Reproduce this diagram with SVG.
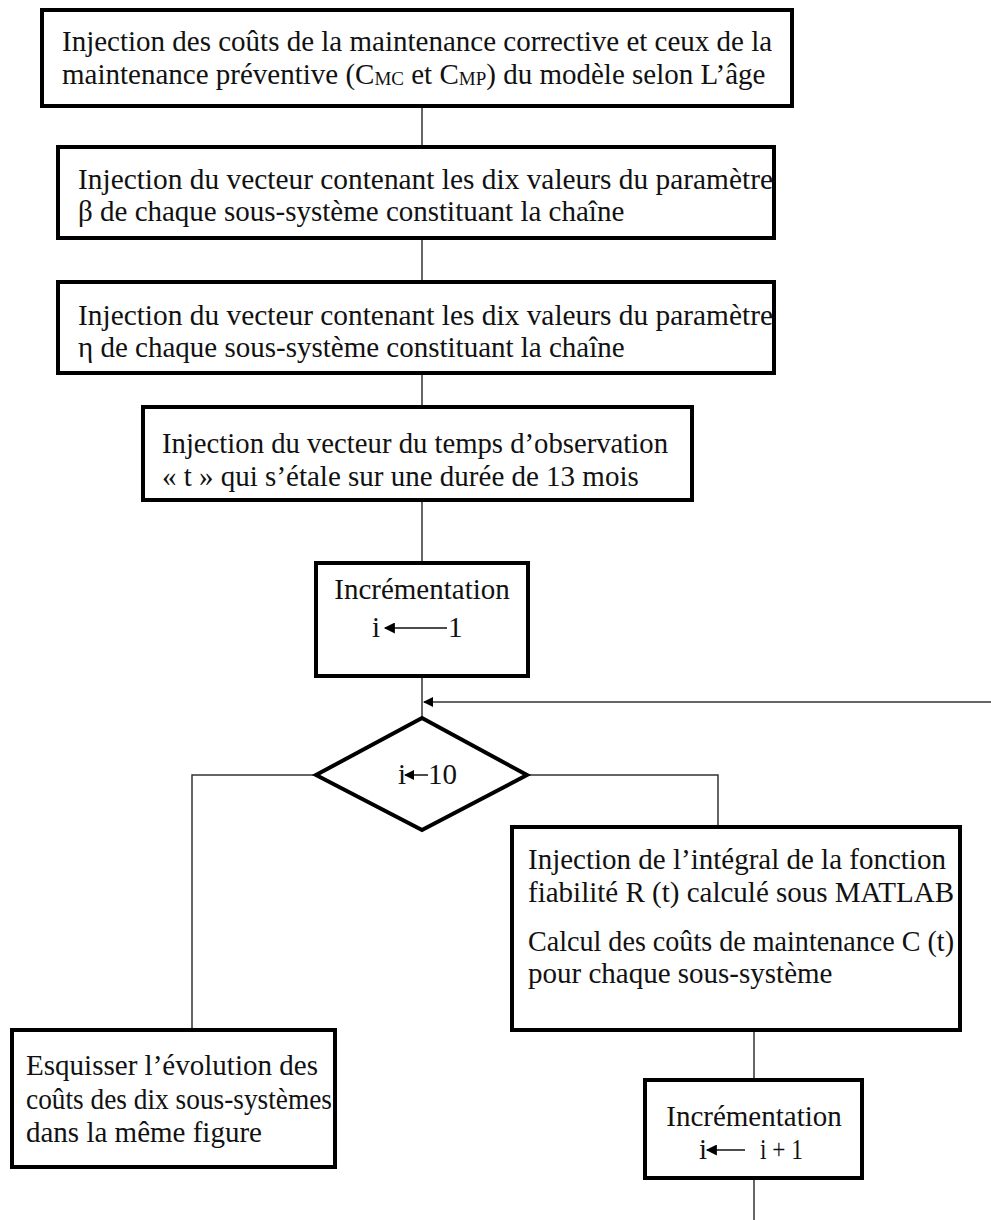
<svg xmlns="http://www.w3.org/2000/svg" width="991" height="1220" viewBox="0 0 991 1220">
<defs>
<style>
.box{fill:#fff;stroke:#000;stroke-width:4}
.con{fill:none;stroke:#333;stroke-width:1.5}
.t{font-family:'Liberation Serif','DejaVu Serif',serif;font-size:29px;fill:#111}
.c{text-anchor:middle}
.sub{font-size:19px}
.ar{fill:none;stroke:#111;stroke-width:1.5}
</style>
<marker id="ah" viewBox="0 0 10 10" refX="9" refY="5" markerWidth="10" markerHeight="10" markerUnits="userSpaceOnUse" orient="auto">
<path d="M0,0 L10,5 L0,10 z" fill="#000"/>
</marker>
<marker id="ahs" viewBox="0 0 10 10" refX="9" refY="5" markerWidth="13" markerHeight="11" markerUnits="userSpaceOnUse" orient="auto">
<path d="M0,0 L10,5 L0,10 z" fill="#000"/>
</marker>
</defs>
<g id="connectors">
<line class="con" x1="422" y1="106" x2="422" y2="147"/>
<line class="con" x1="422" y1="238" x2="422" y2="282"/>
<line class="con" x1="422" y1="373" x2="422" y2="407"/>
<line class="con" x1="422" y1="500" x2="422" y2="563"/>
<line class="con" x1="422" y1="676" x2="422" y2="718"/>
<line class="con" x1="991" y1="702" x2="424" y2="702" marker-end="url(#ah)"/>
<polyline class="con" points="316,775 192,775 192,1030"/>
<polyline class="con" points="527,775 718,775 718,827"/>
<line class="con" x1="754" y1="1030" x2="754" y2="1080"/>
<line class="con" x1="754" y1="1178" x2="754" y2="1220"/>
</g>
<g id="n1">
<rect class="box" x="42" y="10" width="750" height="96"/>
<text class="t" x="62" y="51">Injection des coûts de la maintenance corrective et ceux de la</text>
<text class="t" x="62" y="84">maintenance préventive (C<tspan class="sub" dy="1">MC</tspan><tspan dy="-1"> et C</tspan><tspan class="sub" dy="1">MP</tspan><tspan dy="-1">) du modèle selon L’âge</tspan></text>
</g>
<g id="n2">
<rect class="box" x="58" y="147" width="716" height="91"/>
<text class="t" x="78" y="189" textLength="695" lengthAdjust="spacingAndGlyphs">Injection du vecteur contenant les dix valeurs du paramètre</text>
<text class="t" x="78" y="221">β de chaque sous-système constituant la chaîne</text>
</g>
<g id="n3">
<rect class="box" x="58" y="282" width="716" height="91"/>
<text class="t" x="78" y="325" textLength="695" lengthAdjust="spacingAndGlyphs">Injection du vecteur contenant les dix valeurs du paramètre</text>
<text class="t" x="78" y="357">η de chaque sous-système constituant la chaîne</text>
</g>
<g id="n4">
<rect class="box" x="143" y="407" width="549" height="93"/>
<text class="t" x="162" y="453" textLength="506" lengthAdjust="spacingAndGlyphs">Injection du vecteur du temps d’observation</text>
<text class="t" x="162" y="486">« t » qui s’étale sur une durée de 13 mois</text>
</g>
<g id="n5">
<rect class="box" x="316" y="563" width="212" height="113"/>
<text class="t c" x="422" y="599">Incrémentation</text>
<text class="t" x="372" y="637">i</text>
<line class="ar" x1="447" y1="628" x2="385" y2="628" marker-end="url(#ahs)"/>
<text class="t" x="448" y="637">1</text>
</g>
<g id="n6">
<polygon class="box" points="422,718 527,775 422,830 316,775"/>
<text class="t" x="398" y="784">i</text>
<line class="ar" x1="428" y1="775" x2="405" y2="775" marker-end="url(#ah)"/>
<text class="t" x="428" y="784">10</text>
</g>
<g id="n7">
<rect class="box" x="512" y="827" width="448" height="203"/>
<text class="t" x="528" y="869">Injection de l’intégral de la fonction</text>
<text class="t" x="528" y="902">fiabilité R (t) calculé sous MATLAB</text>
<text class="t" x="528" y="951" textLength="426" lengthAdjust="spacingAndGlyphs">Calcul des coûts de maintenance C (t)</text>
<text class="t" x="528" y="983">pour chaque sous-système</text>
</g>
<g id="n8">
<rect class="box" x="12" y="1030" width="323" height="137"/>
<text class="t" x="26" y="1075" textLength="292" lengthAdjust="spacingAndGlyphs">Esquisser l’évolution des</text>
<text class="t" x="26" y="1109" textLength="306" lengthAdjust="spacingAndGlyphs">coûts des dix sous-systèmes</text>
<text class="t" x="26" y="1142">dans la même figure</text>
</g>
<g id="n9">
<rect class="box" x="645" y="1080" width="217" height="98"/>
<text class="t c" x="754" y="1126">Incrémentation</text>
<text class="t" x="699" y="1159">i</text>
<line class="ar" x1="745" y1="1150" x2="707" y2="1150" marker-end="url(#ahs)"/>
<text class="t" x="760" y="1159" textLength="43" lengthAdjust="spacingAndGlyphs">i + 1</text>
</g>
</svg>
